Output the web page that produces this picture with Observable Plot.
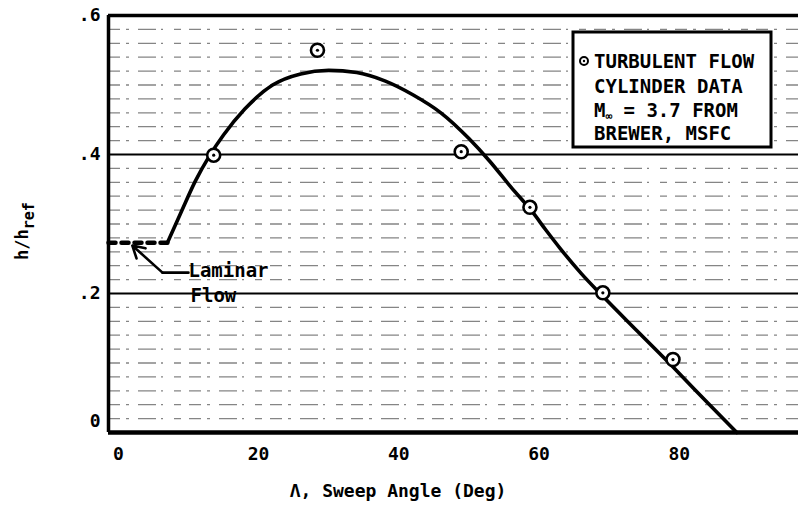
<!DOCTYPE html>
<html>
<head>
<meta charset="utf-8">
<script src="https://cdn.jsdelivr.net/npm/d3@7"></script>
<script src="https://cdn.jsdelivr.net/npm/@observablehq/plot@0.6"></script>
<style>
  html, body { margin: 0; padding: 0; background: #fff; }
  #chart { width: 798px; height: 511px; }
</style>
</head>
<body>
<div id="chart"></div>
<script>
// ---- data ----
const curveX = [7.0, 9.0, 11.0, 13.0, 15.0, 18.0, 22.0, 26.0, 30.0, 34.0, 38.0, 42.0, 46.0, 50.0, 53.0, 56.0, 59.0, 61.0, 63.0, 66.0, 69.0, 74.0, 80.0, 84.0, 88.2];
const curveY = [0.273, 0.318, 0.362, 0.398, 0.428, 0.465, 0.500, 0.516, 0.521, 0.518, 0.506, 0.486, 0.460, 0.423, 0.390, 0.353, 0.318, 0.291, 0.265, 0.229, 0.197, 0.146, 0.085, 0.043, 0.0];
const dataX = [13.6, 28.4, 48.9, 58.7, 69.1, 79.1];
const dataY = [0.399, 0.550, 0.404, 0.324, 0.201, 0.105];
const laminarX = [-1.4, 7.0];
const laminarY = [0.273, 0.273];
const arrowX = [10.0, 6.3, 2.0];
const arrowY = [0.230, 0.230, 0.269];
const laminarLabels = ["Laminar", "Flow"];
const laminarLabelX = [10.0, 10.3];
const laminarLabelY = [0.233, 0.197];
const xTicks = [0, 20, 40, 60, 80];
const yTicks = [0.2, 0.4, 0.6];
const yTickLabels = [".2", ".4", ".6"];
const majorGrid = [0.2, 0.4];
const minorGrid = [0.02, 0.04, 0.06, 0.08, 0.10, 0.12, 0.14, 0.16, 0.18, 0.22, 0.24, 0.26, 0.28, 0.30, 0.32, 0.34, 0.36, 0.38, 0.42, 0.44, 0.46, 0.48, 0.50, 0.52, 0.54, 0.56, 0.58];
const legendLines = ["TURBULENT FLOW", "CYLINDER DATA", "M", "BREWER, MSFC"];
const xLabel = "Λ, Sweep Angle (Deg)";
const yLabelMain = "h/h";
const yLabelSub = "ref";

const curve = curveX.map((x, i) => ({x, y: curveY[i]}));
const pts = dataX.map((x, i) => ({x, y: dataY[i]}));
const laminar = laminarX.map((x, i) => ({x, y: laminarY[i]}));
const arrowPts = arrowX.map((x, i) => ({x, y: arrowY[i]}));
const labs = laminarLabels.map((t, i) => ({t, x: laminarLabelX[i], y: laminarLabelY[i]}));

const FONT = "DejaVu Sans Mono";

const svg = Plot.plot({
  width: 798,
  height: 511,
  marginLeft: 108,
  marginRight: 0,
  marginTop: 15,
  marginBottom: 79,
  style: {fontFamily: FONT, fontWeight: "bold", fontSize: "18px", background: "#fff", color: "#000"},
  x: {domain: [-1.4, 97]},
  y: {domain: [0, 0.6]},
  marks: [
    Plot.ruleY(minorGrid, {stroke: "#333", strokeWidth: 1.3, strokeOpacity: 0.6, strokeDasharray: "12,6,3,9,18,5,2,11,7,8"}),
    Plot.ruleY(majorGrid, {stroke: "#000", strokeWidth: 2.2}),
    Plot.ruleY([0.6], {stroke: "#000", strokeWidth: 3.5}),
    Plot.ruleY([0], {stroke: "#000", strokeWidth: 4.5}),
    Plot.ruleX([-1.4], {stroke: "#000", strokeWidth: 3.5}),
    Plot.line(laminar, {x: "x", y: "y", stroke: "#000", strokeWidth: 4.5, strokeDasharray: "7,6"}),
    Plot.line(curve, {x: "x", y: "y", curve: "monotone-x", stroke: "#000", strokeWidth: 3.6}),
    Plot.dot(pts, {x: "x", y: "y", r: 6.5, fill: "#fff", stroke: "#000", strokeWidth: 2.6}),
    Plot.dot(pts, {x: "x", y: "y", r: 1.6, fill: "#000"}),
    Plot.line(arrowPts.slice(0, 2), {x: "x", y: "y", stroke: "#000", strokeWidth: 2.6}),
    Plot.arrow([arrowPts], {x1: d => d[1].x, y1: d => d[1].y, x2: d => d[2].x, y2: d => d[2].y, stroke: "#000", strokeWidth: 2.6, headLength: 14}),
    Plot.text(labs, {x: "x", y: "y", text: "t", textAnchor: "start", lineAnchor: "middle", fontSize: 19, fontWeight: "bold", fill: "#000"}),
    Plot.axisX(xTicks, {tickSize: 0, tickPadding: 15, fontSize: 18, fontWeight: "bold", label: null}),
    Plot.axisY(yTicks, {tickSize: 0, tickPadding: 8, fontSize: 18, fontWeight: "bold", label: null, tickFormat: (d, i) => yTickLabels[i]}),
    Plot.axisY([0], {tickSize: 0, tickPadding: 8, dy: -11, fontSize: 18, fontWeight: "bold", label: null, tickFormat: () => "0"})
  ]
});

document.getElementById("chart").appendChild(svg);

const s = d3.select(svg);
// legend box
const g = s.append("g").attr("font-family", FONT).attr("font-weight", "bold").attr("font-size", 19)
  .attr("fill", "#000").attr("text-anchor", "start");
g.append("rect").attr("x", 573).attr("y", 32).attr("width", 198).attr("height", 115)
  .attr("fill", "#fff").attr("stroke", "#000").attr("stroke-width", 3);
g.append("circle").attr("cx", 584).attr("cy", 61).attr("r", 4).attr("fill", "#fff").attr("stroke", "#000").attr("stroke-width", 2);
g.append("circle").attr("cx", 584).attr("cy", 61).attr("r", 1.2).attr("fill", "#000");
const baselines = [68, 93, 117, 140];
legendLines.forEach((t, i) => {
  const tx = g.append("text").attr("x", 594).attr("y", baselines[i]);
  if (i === 2) {
    tx.append("tspan").text("M");
    tx.append("tspan").attr("font-size", 11).attr("dy", 3).text("∞");
    tx.append("tspan").attr("dy", -3).text(" = 3.7 FROM");
  } else {
    tx.text(t);
  }
});
// y label
const yl = s.append("text").attr("transform", "translate(28,231) rotate(-90)")
  .attr("text-anchor", "middle").attr("font-family", FONT).attr("font-weight", "bold")
  .attr("font-size", 17).attr("fill", "#000");
yl.append("tspan").text(yLabelMain);
yl.append("tspan").attr("font-size", 15).attr("dy", 6).text(yLabelSub);
// x label
s.append("text").attr("x", 398).attr("y", 497).attr("text-anchor", "middle")
  .attr("font-family", FONT).attr("font-weight", "bold").attr("font-size", 18).attr("fill", "#000")
  .text(xLabel);
</script>
</body>
</html>
